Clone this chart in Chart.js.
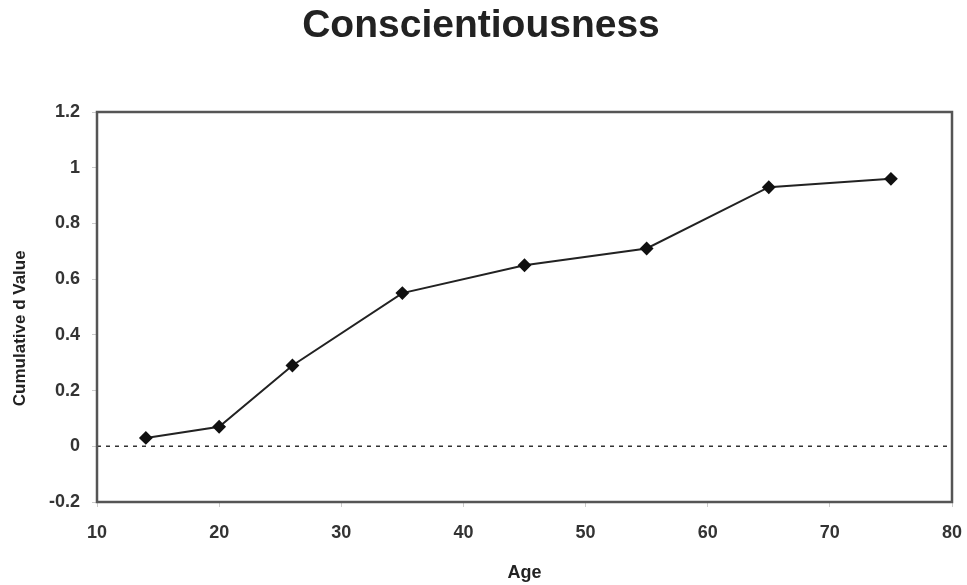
<!DOCTYPE html>
<html>
<head>
<meta charset="utf-8">
<script src="https://cdn.jsdelivr.net/npm/chart.js@4"></script>
<style>
  html, body { margin: 0; padding: 0; background: #fff; }
  #wrap { width: 967px; height: 585px; }
</style>
</head>
<body>
<div id="wrap"><canvas id="c" width="967" height="585"></canvas></div>
<script>
const ages = [14, 20, 26, 35, 45, 55, 65, 75];
const dValues = [0.03, 0.07, 0.29, 0.55, 0.65, 0.71, 0.93, 0.96];
const xTicks = [10, 20, 30, 40, 50, 60, 70, 80];
const yTicks = [-0.2, 0, 0.2, 0.4, 0.6, 0.8, 1, 1.2];
const zeroLine = [0, 0];
const zeroLineX = [10, 80];

const PAD = { left: 10, right: 15, top: 0, bottom: 1 };
const PLOT = { left: 97, top: 112, bottom: 502 };
const FONT = 'Liberation Sans, Arial, sans-serif';

const framePlugin = {
  id: 'frame',
  afterDatasetsDraw(chart) {
    const a = chart.chartArea, ctx = chart.ctx;
    ctx.save();
    ctx.strokeStyle = '#555';
    ctx.lineWidth = 2.5;
    ctx.strokeRect(a.left, a.top, a.right - a.left, a.bottom - a.top);
    ctx.restore();
  }
};

new Chart(document.getElementById('c'), {
  type: 'line',
  data: {
    datasets: [
      {
        data: ages.map((a, i) => ({ x: a, y: dValues[i] })),
        borderColor: '#222',
        borderWidth: 2,
        pointStyle: 'rectRot',
        pointRadius: 5.5,
        pointBackgroundColor: '#111',
        pointBorderColor: '#111',
        tension: 0
      },
      {
        data: zeroLineX.map((x, i) => ({ x: x, y: zeroLine[i] })),
        borderColor: '#333',
        borderWidth: 1.5,
        borderDash: [4, 5],
        pointRadius: 0
      }
    ]
  },
  options: {
    responsive: false,
    animation: false,
    layout: { padding: PAD },
    plugins: {
      legend: { display: false },
      tooltip: { enabled: false },
      title: {
        display: true,
        text: 'Conscientiousness',
        color: '#222',
        font: { family: FONT, size: 39, weight: 'bold' },
        padding: { top: 3, bottom: 62.2 }
      }
    },
    scales: {
      x: {
        type: 'linear',
        min: 10, max: 80,
        afterBuildTicks(s) { s.ticks = xTicks.map(v => ({ value: v })); },
        afterFit(s) { s.height = 585 - PLOT.bottom - PAD.bottom; s.paddingLeft = 0; s.paddingRight = 0; },
        grid: { drawOnChartArea: false, color: '#ccc', tickLength: 5 },
        border: { display: false },
        ticks: {
          color: '#333', padding: 15,
          font: { family: FONT, size: 18, weight: 'bold' }
        },
        title: {
          display: true, text: 'Age', color: '#222', padding: 0,
          font: { family: FONT, size: 18, weight: 'bold' }
        }
      },
      y: {
        type: 'linear',
        min: -0.2, max: 1.2,
        afterBuildTicks(s) { s.ticks = yTicks.map(v => ({ value: v })); },
        afterFit(s) { s.width = PLOT.left - PAD.left; },
        grid: { drawOnChartArea: false, color: '#ccc', tickLength: 5 },
        border: { display: false },
        ticks: {
          color: '#333', padding: 12,
          callback: v => String(Number(v.toFixed(1))),
          font: { family: FONT, size: 18, weight: 'bold' }
        },
        title: {
          display: true, text: 'Cumulative d Value         ', color: '#222', padding: 0,
          font: { family: FONT, size: 17, weight: 'bold' }
        }
      }
    }
  },
  plugins: [framePlugin]
});
</script>
</body>
</html>
